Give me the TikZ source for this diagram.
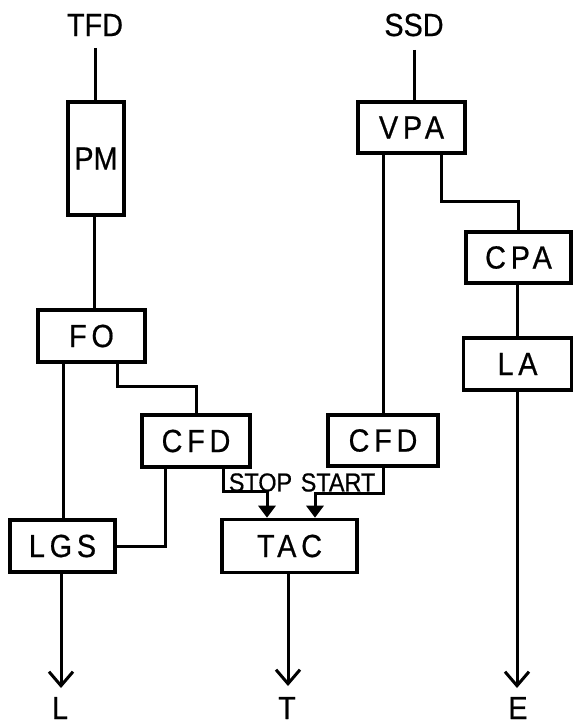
\documentclass[tikz,border=0pt]{standalone}
\usepackage{fontspec}
\setmainfont{Liberation Sans}[FakeStretch=0.9,FakeBold=0.6]
\newfontfamily\labfont{Liberation Sans}[FakeStretch=0.9,FakeBold=0.6,LetterSpace=15]
\usetikzlibrary{arrows.meta,calc}
\begin{document}
\begin{tikzpicture}[x=1pt,y=-1pt,
  box/.style={draw,line width=3.6pt,inner sep=0pt,minimum width=107pt,minimum height=52pt,font=\labfont\fontsize{32}{32}\selectfont},
  plain/.style={inner sep=0pt,font=\fontsize{32}{32}\selectfont},
  sig/.style={inner sep=0pt,font=\fontsize{26}{26}\selectfont},
  wire/.style={line width=3pt},
  inarrow/.style={wire,-{Triangle[length=12pt,width=17pt]}},
  outarrow/.style={wire,-{Straight Barb[length=14pt,width=24pt]}}]
\useasboundingbox (0,0) rectangle (573,725);
% labels
\node[plain] (TFD) at (95,25) {TFD};
\node[plain] (SSD) at (414,25) {SSD};
\node[plain] (L) at (60,708) {L};
\node[plain] (T) at (287,708) {T};
\node[plain] (E) at (518,708) {E};
% boxes
\node[box,minimum width=56pt,minimum height=113pt,font=\fontsize{32}{32}\selectfont] (PM) at (96,158.5) {PM};
\node[box] (FO) at (91.5,336) {FO};
\node[box,minimum width=108pt] (CFDL) at (196,441) {CFD};
\node[box,minimum width=105pt] (LGS) at (62.5,546) {LGS};
\node[box,minimum width=135pt,minimum height=53pt] (TAC) at (289.5,546) {TAC};
\node[box,minimum width=110pt,minimum height=51pt] (CFDR) at (383,440.5) {CFD};
\node[box,minimum height=51pt] (VPA) at (411.5,127.5) {VPA};
\node[box,minimum width=105pt,minimum height=51pt] (CPA) at (518.5,257.5) {CPA};
\node[box,minimum width=108pt] (LA) at (517.5,364) {LA};
% signal labels
\node[sig] (STOP) at (260.5,482.5) {STOP};
\node[sig] (START) at (338,482.5) {START};
% coordinates for free ends
\coordinate (tfdend) at (95,48);
\coordinate (ssdend) at (414,50);
\coordinate (Ltip) at (61,688);
\coordinate (Ttip) at (288,686);
\coordinate (Etip) at (517,688);
% connectors
\draw[wire] (tfdend) -- (tfdend |- PM.north);
\draw[wire] ([xshift=-2pt]PM.south) -- ([xshift=-2pt]PM.south |- FO.north);
\draw[wire] (LGS.north -| 63,0) -- (FO.south -| 63,0);
\draw[wire] ([xshift=25.5pt]FO.south) |- ([yshift=27pt]CFDL.north) -- (CFDL.north);
\draw[wire] ([xshift=-31pt]CFDL.south) |- (LGS.east);
\draw[inarrow] ([xshift=27pt]CFDL.south) |- ([xshift=-22.5pt,yshift=26pt]TAC.north) -- ([xshift=-22.5pt]TAC.north);
\draw[inarrow] (CFDR.south) |- ([xshift=25.5pt,yshift=24pt]TAC.north) -- ([xshift=25.5pt]TAC.north);
\draw[wire] (ssdend) -- (ssdend |- VPA.north);
\draw[wire] (CFDR.north) -- (CFDR.north |- VPA.south);
\draw[wire] ([xshift=29.5pt]VPA.south) |- ([yshift=29pt]CPA.north) -- (CPA.north);
\draw[wire] (LA.north |- CPA.south) -- (LA.north);
\draw[outarrow] (LGS.south -| Ltip) -- (Ltip);
\draw[outarrow] (TAC.south -| Ttip) -- (Ttip);
\draw[outarrow] (LA.south -| Etip) -- (Etip);
\end{tikzpicture}
\end{document}
